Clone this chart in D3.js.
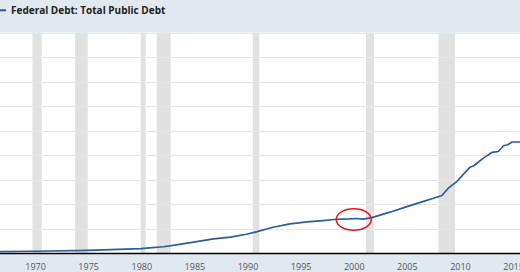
<!DOCTYPE html>
<html>
<head>
  <meta charset="utf-8">
  <title>Federal Debt: Total Public Debt</title>
  <style>
    body { margin: 0; background: #fff; }
    svg { display: block; font-family: "Open Sans", sans-serif; }
  </style>
  <script src="https://d3js.org/d3.v7.min.js"></script>
</head>
<body>
  <svg id="chart" width="520" height="272"></svg>
  <script>
    // debt in trillions of dollars
    const years = [1966.7, 1970, 1975, 1980, 1980.5, 1982.1, 1983.6, 1985.2, 1986.8, 1988.4, 1989.9,
      1990.9, 1992.4, 1994.0, 1995.6, 1997.1, 1998.4, 1999.6, 2000.3, 2000.9, 2001.7, 2003.4, 2005.0,
      2006.5, 2007.5, 2008.3, 2008.9, 2009.7, 2010.9, 2011.3, 2012.2, 2013.0, 2013.6, 2014.1, 2014.5,
      2014.9, 2015.7];
    const debt = [0.32, 0.37, 0.5, 0.8, 0.86, 1.1, 1.5, 1.93, 2.37, 2.66, 3.13,
      3.56, 4.28, 4.82, 5.14, 5.36, 5.58, 5.63, 5.7, 5.6, 5.84, 6.73, 7.64,
      8.46, 9.01, 9.44, 10.64, 11.72, 14.0, 14.29, 15.54, 16.46, 16.62, 17.55, 17.71,
      18.16, 18.16];
    const recStart = [1969.75, 1973.76, 1979.95, 1981.45, 1990.49, 2001.15, 2007.96];
    const recEnd = [1970.63, 1974.96, 1980.42, 1982.77, 1991.11, 2001.9, 2009.53];
    const tickYears = [1970, 1975, 1980, 1985, 1990, 1995, 2000, 2005, 2010, 2015];
    const gridValues = [4, 8, 12, 16, 20, 24, 28, 32, 36];
    const title = "Federal Debt: Total Public Debt";

    const svg = d3.select("#chart");
    const W = 520, H = 272;
    const plotTop = 32.5, plotBottom = 253.5;

    const x = d3.scaleLinear().domain([1966.7, 2015.65]).range([0, W]);
    const y = d3.scaleLinear().domain([0, 36]).range([plotBottom, plotTop]);

    // header and footer bands
    svg.append("rect").attr("x", 0).attr("y", 0).attr("width", W).attr("height", plotTop).attr("fill", "#e1e9f0");
    svg.append("rect").attr("x", 0).attr("y", plotBottom).attr("width", W).attr("height", H - plotBottom).attr("fill", "#e1e9f0");

    // recession shading
    svg.selectAll("rect.rec")
      .data(recStart)
      .enter()
      .append("rect")
      .attr("class", "rec")
      .attr("x", d => x(d))
      .attr("y", plotTop)
      .attr("width", (d, i) => x(recEnd[i]) - x(d))
      .attr("height", plotBottom - plotTop)
      .attr("fill", "#e1e1e1");

    // gridlines
    svg.selectAll("line.grid")
      .data(gridValues)
      .enter()
      .append("line")
      .attr("class", "grid")
      .attr("x1", 0).attr("x2", W)
      .attr("y1", d => Math.round(y(d)) + 0.5)
      .attr("y2", d => Math.round(y(d)) + 0.5)
      .attr("stroke", "#e6e6e6");

    // x axis
    const xAxis = svg.append("g")
      .attr("transform", "translate(0," + plotBottom + ")")
      .call(d3.axisBottom(x).tickValues(tickYears).tickSize(0).tickPadding(10).tickFormat(d3.format("d")));
    xAxis.select(".domain").remove();
    xAxis.selectAll("text")
      .attr("fill", "#555")
      .style("font-size", "9px")
      .style("font-family", "'Open Sans', sans-serif");

    svg.append("line")
      .attr("x1", 0).attr("x2", W)
      .attr("y1", plotBottom).attr("y2", plotBottom)
      .attr("stroke", "#000").attr("stroke-width", 1.6);

    // debt line
    const line = d3.line()
      .x((d, i) => x(years[i]))
      .y(d => y(d));
    svg.append("path")
      .attr("d", line(debt))
      .attr("fill", "none")
      .attr("stroke", "#2b5c9c")
      .attr("stroke-width", 1.7)
      .attr("stroke-linejoin", "round");

    // red circle annotation around 2000
    svg.append("ellipse")
      .attr("cx", x(2000))
      .attr("cy", y(5.55))
      .attr("rx", 17.5)
      .attr("ry", 10.8)
      .attr("fill", "none")
      .attr("stroke", "#e0161b")
      .attr("stroke-width", 1.5);

    // legend
    svg.append("line")
      .attr("x1", 0).attr("x2", 6)
      .attr("y1", 10.3).attr("y2", 10.3)
      .attr("stroke", "#2b5c9c").attr("stroke-width", 2);
    svg.append("text")
      .attr("x", 11)
      .attr("y", 13.8)
      .attr("fill", "#222")
      .style("font-size", "10px")
      .style("font-weight", "bold")
      .text(title);
  </script>
</body>
</html>
